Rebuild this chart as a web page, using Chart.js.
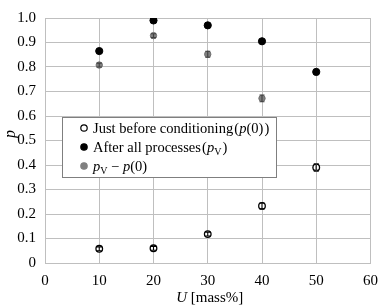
<!DOCTYPE html>
<html>
<head>
<meta charset="utf-8">
<script src="https://cdn.jsdelivr.net/npm/chart.js@4.4.1/dist/chart.umd.min.js"></script>
<style>
  html, body { margin: 0; padding: 0; background: #fff; }
  #wrap { width: 387px; height: 308px; }
</style>
</head>
<body>
<div id="wrap"><canvas id="chartP" width="387" height="308"></canvas></div>
<script>
const massU = [10, 20, 30, 40, 50]
const p0Data = [0.058, 0.060, 0.118, 0.233, 0.390]
const p0Err = [0.008, 0.008, 0.008, 0.012, 0.012]
const pVData = [0.865, 0.990, 0.970, 0.905, 0.780]
const pVErr = [0.006, 0.006, 0.006, 0.006, 0.010]
const diffData = [0.808, 0.928, 0.852, 0.672, 0.390]
const diffErr = [0.008, 0.008, 0.012, 0.014, 0.016]
const xTicks = [0, 10, 20, 30, 40, 50, 60]

const serif = 'Liberation Serif';
const gridGray = '#bfbfbf';

function toPoints(vals) {
    return massU.map((u, i) => ({ x: u, y: vals[i] }));
}

const errorsBySet = [p0Err, pVErr, diffErr];

// error bars, axis titles and the framed legend
const extras = {
    id: 'extras',
    afterDatasetsDraw(chart) {
        const ctx = chart.ctx;
        const xs = chart.scales.x, ys = chart.scales.y;
        ctx.save();
        chart.data.datasets.forEach((ds, di) => {
            const errs = errorsBySet[di];
            ctx.strokeStyle = di === 2 ? '#404040' : '#000';
            ctx.lineWidth = 1.1;
            ds.data.forEach((pt, i) => {
                const px = xs.getPixelForValue(pt.x);
                const top = ys.getPixelForValue(pt.y + errs[i]);
                const bot = ys.getPixelForValue(pt.y - errs[i]);
                ctx.beginPath();
                ctx.moveTo(px, top); ctx.lineTo(px, bot);
                ctx.moveTo(px - 2.5, top); ctx.lineTo(px + 2.5, top);
                ctx.moveTo(px - 2.5, bot); ctx.lineTo(px + 2.5, bot);
                ctx.stroke();
            });
        });
        ctx.restore();
    },
    afterDraw(chart) {
        const ctx = chart.ctx;
        const area = chart.chartArea;
        ctx.save();
        ctx.fillStyle = '#000';
        ctx.textBaseline = 'alphabetic';

        // x title: U [mass%]
        ctx.font = 'italic 15px ' + serif;
        const uW = ctx.measureText('U').width;
        ctx.font = '15px ' + serif;
        const restW = ctx.measureText(' [mass%]').width;
        let tx = (area.left + area.right) / 2 - (uW + restW) / 2 + 2;
        ctx.font = 'italic 15px ' + serif;
        ctx.fillText('U', tx, 302);
        ctx.font = '15px ' + serif;
        ctx.fillText(' [mass%]', tx + uW, 302);

        // y title: p
        ctx.save();
        ctx.translate(15, 134);
        ctx.rotate(-Math.PI / 2);
        ctx.font = 'italic 16px ' + serif;
        ctx.textAlign = 'center';
        ctx.fillText('p', 0, 0);
        ctx.restore();

        // legend box
        const bx = 62, by = 117, bw = 214, bh = 60;
        ctx.fillStyle = '#fff';
        ctx.fillRect(bx, by, bw, bh);
        ctx.strokeStyle = '#7f7f7f';
        ctx.lineWidth = 1;
        ctx.strokeRect(bx + 0.5, by + 0.5, bw, bh);

        const rows = [128, 147, 166];
        const mk = [
            { fill: '#fff', stroke: '#000' },
            { fill: '#000', stroke: '#000' },
            { fill: '#808080', stroke: '#808080' }
        ];
        rows.forEach((ry, i) => {
            ctx.beginPath();
            ctx.arc(84, ry, 3.2, 0, Math.PI * 2);
            ctx.fillStyle = mk[i].fill;
            ctx.fill();
            ctx.strokeStyle = mk[i].stroke;
            ctx.lineWidth = 1.2;
            ctx.stroke();
        });

        // rich text runs: [text, style] ; style: n normal, i italic, s subscript
        function runs(list, x, y) {
            list.forEach(([t, st]) => {
                let size = 14.5, dy = 0, style = '';
                if (st === 'i') style = 'italic ';
                if (st === 's') { size = 10; dy = 3; }
                ctx.font = style + size + 'px ' + serif;
                ctx.fillStyle = '#000';
                ctx.fillText(t, x, y + dy);
                x += ctx.measureText(t).width;
            });
        }
        runs([['Just before conditioning\u200a', 'n'], ['(', 'n'], ['p', 'i'], ['(0)\u200a)', 'n']], 93, rows[0] + 5);
        runs([['After all processes\u200a', 'n'], ['(', 'n'], ['p', 'i'], ['V', 's'], ['\u200a)', 'n']], 93, rows[1] + 5);
        runs([['p', 'i'], ['V', 's'], [' \u2212 ', 'n'], ['p', 'i'], ['(0)', 'n']], 93, rows[2] + 5);
        ctx.restore();
    }
};

const ctxP = document.getElementById('chartP').getContext('2d');
const chartP = new Chart(ctxP, {
    type: 'scatter',
    data: {
        datasets: [
            {
                label: 'Just before conditioning (p(0))',
                data: toPoints(p0Data),
                backgroundColor: '#fff',
                borderColor: '#000',
                borderWidth: 1.3,
                pointRadius: 3.3
            },
            {
                label: 'After all processes (pV)',
                data: toPoints(pVData),
                backgroundColor: '#000',
                borderColor: '#000',
                borderWidth: 1,
                pointRadius: 3.6
            },
            {
                label: 'pV - p(0)',
                data: toPoints(diffData),
                backgroundColor: '#808080',
                borderColor: '#707070',
                borderWidth: 1,
                pointRadius: 3.2
            }
        ]
    },
    options: {
        responsive: false,
        animation: false,
        layout: { padding: { top: 6, right: 7, left: 0, bottom: 0 } },
        plugins: { legend: { display: false }, tooltip: { enabled: false } },
        scales: {
            x: {
                type: 'linear',
                min: 0, max: 60,
                afterBuildTicks(scale) { scale.ticks = xTicks.map(v => ({ value: v })); },
                afterFit(scale) { scale.height = 45; },
                grid: { color: gridGray, lineWidth: 1, drawTicks: false },
                border: { color: gridGray },
                ticks: {
                    color: '#000',
                    padding: 9,
                    font: { family: serif, size: 15 }
                }
            },
            y: {
                min: 0, max: 1,
                afterFit(scale) { scale.width = 45; },
                grid: { color: gridGray, lineWidth: 1, drawTicks: false },
                border: { color: gridGray },
                ticks: {
                    stepSize: 0.1,
                    color: '#000',
                    padding: 9,
                    font: { family: serif, size: 15 },
                    callback: v => (Math.abs(v) < 1e-9 ? '0' : v.toFixed(1))
                }
            }
        }
    },
    plugins: [extras]
});
</script>
</body>
</html>
